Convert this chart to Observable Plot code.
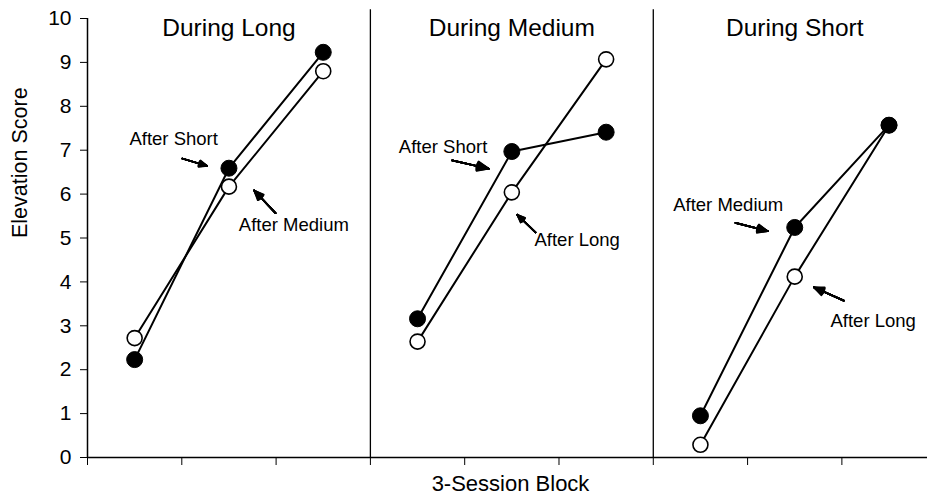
<!DOCTYPE html>
<html>
<head>
<meta charset="utf-8">
<script src="https://cdn.jsdelivr.net/npm/d3@7"></script>
<script src="https://cdn.jsdelivr.net/npm/@observablehq/plot@0.6"></script>
<style>
  html, body { margin: 0; padding: 0; background: #fff; }
</style>
</head>
<body>
<div id="chart"></div>
<script>
// ---- data ----
const panels = ["During Long", "During Medium", "During Short"];
const blockPos = [0.5, 1.5, 2.5];          // position of the 3 blocks within a panel
const filledVals = [[2.23, 6.59, 9.23], [3.16, 6.97, 7.41], [0.95, 5.24, 7.57]];
const openVals   = [[2.72, 6.17, 8.80], [2.64, 6.04, 9.07], [0.29, 4.12, 7.57]];
const yTicks = [0, 1, 2, 3, 4, 5, 6, 7, 8, 9, 10];
const xTicks = [0, 1, 2, 3, 4, 5, 6, 7, 8];
const dividers = [3, 6];

// annotation labels (data coordinates)
const labelText = ["After Short", "After Medium", "After Short", "After Long", "After Medium", "After Long"];
const labelX = [0.445, 1.605, 3.302, 4.740, 6.211, 7.879];
const labelY = [7.26, 5.285, 7.07, 4.943, 5.757, 3.10];
// annotation arrows (tail -> tip, data coordinates)
const arrowX1 = [1.004, 1.994, 3.867, 4.751, 6.872, 8.020];
const arrowY1 = [6.81, 5.566, 6.768, 5.13, 5.346, 3.574];
const arrowX2 = [1.269, 1.767, 4.256, 4.557, 7.214, 7.702];
const arrowY2 = [6.64, 6.084, 6.578, 5.53, 5.155, 3.878];

// ---- build tables ----
const points = [];
panels.forEach((p, i) => {
  blockPos.forEach((b, j) => {
    points.push({panel: p, type: "open", x: i * 3 + b, y: openVals[i][j]});
  });
  blockPos.forEach((b, j) => {
    points.push({panel: p, type: "filled", x: i * 3 + b, y: filledVals[i][j]});
  });
});
const openPts = points.filter(d => d.type === "open");
const filledPts = points.filter(d => d.type === "filled");
const titles = panels.map((p, i) => ({text: p, x: i * 3 + 1.5, y: 9.79}));
const labels = labelText.map((t, i) => ({text: t, x: labelX[i], y: labelY[i]}));
const arrows = arrowX1.map((_, i) => ({x1: arrowX1[i], y1: arrowY1[i], x2: arrowX2[i], y2: arrowY2[i]}));

const font = "Liberation Sans, Arial, sans-serif";
const headAngles = [4, 10, 16, 22, 28, 34, 40, 46];

const chart = Plot.plot({
  width: 927,
  height: 504,
  marginLeft: 87,
  marginRight: 0,
  marginTop: 18,
  marginBottom: 47,
  style: {fontFamily: font, fontSize: "21px", color: "black", background: "white"},
  x: {domain: [0, 8.908], ticks: xTicks, tickFormat: () => "", tickSize: 8, label: null},
  y: {domain: [0, 10], ticks: yTicks, tickSize: 7, tickPadding: 9, label: null},
  marks: [
    Plot.ruleY([0], {stroke: "black", strokeWidth: 1.5}),
    Plot.ruleX([0], {stroke: "black", strokeWidth: 1.5}),
    Plot.ruleX(dividers, {y1: 0, y2: 10.2, stroke: "black", strokeWidth: 1.3}),
    Plot.line(openPts, {x: "x", y: "y", z: "panel", stroke: "black", strokeWidth: 2}),
    Plot.line(filledPts, {x: "x", y: "y", z: "panel", stroke: "black", strokeWidth: 2}),
    Plot.dot(openPts, {x: "x", y: "y", r: 7.5, fill: "white", stroke: "black", strokeWidth: 1.6}),
    Plot.dot(filledPts, {x: "x", y: "y", r: 8, fill: "black", stroke: "black", strokeWidth: 1}),
    ...headAngles.map(a => Plot.arrow(arrows, {
      x1: "x1", y1: "y1", x2: "x2", y2: "y2",
      stroke: "black", strokeWidth: 1.7, headLength: 13, headAngle: a
    })),
    Plot.text(titles, {x: "x", y: "y", text: "text", fontSize: 24.5, fontFamily: font, fill: "black"}),
    Plot.text(labels, {x: "x", y: "y", text: "text", textAnchor: "start", fontSize: 18.5, fontFamily: font, fill: "black"}),
    Plot.text(["Elevation Score"], {frameAnchor: "left", dx: -67, rotate: -90, text: d => d, fontSize: 21.5, fontFamily: font, fill: "black"}),
    Plot.text(["3-Session Block"], {frameAnchor: "bottom", dy: 33, dx: 3, text: d => d, fontSize: 22, fontFamily: font, fill: "black"})
  ]
});
document.getElementById("chart").appendChild(chart);
</script>
</body>
</html>
